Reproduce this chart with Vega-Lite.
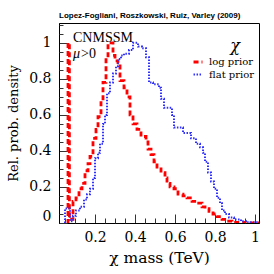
{
  "$schema": "https://vega.github.io/schema/vega-lite/v6.json",
  "width": 200,
  "height": 200,
  "autosize": {"type": "none"},
  "padding": {"left": 59, "top": 23, "right": 15, "bottom": 51},
  "background": "white",
  "config": {"view": {"stroke": "#000", "strokeWidth": 1}},
  "title": {"text": "Lopez-Fogliani, Roszkowski, Ruiz, Varley (2009)", "anchor": "start", "frame": "group", "font": "Liberation Sans", "fontSize": 8, "fontWeight": "bold", "color": "#000", "offset": 3},
  "resolve": {"axis": {"x": "independent", "y": "independent"}},
  "datasets": {
    "curves": [
      {"prior": "log prior", "i": 0, "m": 0.06, "d": 0.0},
      {"prior": "log prior", "i": 1, "m": 0.065, "d": 1.0},
      {"prior": "log prior", "i": 2, "m": 0.072, "d": 0.02},
      {"prior": "log prior", "i": 3, "m": 0.09, "d": 0.12},
      {"prior": "log prior", "i": 4, "m": 0.105, "d": 0.14},
      {"prior": "log prior", "i": 5, "m": 0.12, "d": 0.19},
      {"prior": "log prior", "i": 6, "m": 0.135, "d": 0.22},
      {"prior": "log prior", "i": 7, "m": 0.15, "d": 0.29},
      {"prior": "log prior", "i": 8, "m": 0.165, "d": 0.33},
      {"prior": "log prior", "i": 9, "m": 0.175, "d": 0.37},
      {"prior": "log prior", "i": 10, "m": 0.19, "d": 0.47},
      {"prior": "log prior", "i": 11, "m": 0.205, "d": 0.52},
      {"prior": "log prior", "i": 12, "m": 0.215, "d": 0.59},
      {"prior": "log prior", "i": 13, "m": 0.23, "d": 0.68},
      {"prior": "log prior", "i": 14, "m": 0.24, "d": 0.78},
      {"prior": "log prior", "i": 15, "m": 0.255, "d": 0.92},
      {"prior": "log prior", "i": 16, "m": 0.265, "d": 1.0},
      {"prior": "log prior", "i": 17, "m": 0.29, "d": 0.93},
      {"prior": "log prior", "i": 18, "m": 0.3, "d": 0.9},
      {"prior": "log prior", "i": 19, "m": 0.315, "d": 0.89},
      {"prior": "log prior", "i": 20, "m": 0.325, "d": 0.79},
      {"prior": "log prior", "i": 21, "m": 0.345, "d": 0.75},
      {"prior": "log prior", "i": 22, "m": 0.36, "d": 0.7},
      {"prior": "log prior", "i": 23, "m": 0.375, "d": 0.6},
      {"prior": "log prior", "i": 24, "m": 0.39, "d": 0.55},
      {"prior": "log prior", "i": 25, "m": 0.41, "d": 0.52},
      {"prior": "log prior", "i": 26, "m": 0.43, "d": 0.48},
      {"prior": "log prior", "i": 27, "m": 0.455, "d": 0.45},
      {"prior": "log prior", "i": 28, "m": 0.465, "d": 0.41},
      {"prior": "log prior", "i": 29, "m": 0.48, "d": 0.38},
      {"prior": "log prior", "i": 30, "m": 0.495, "d": 0.34},
      {"prior": "log prior", "i": 31, "m": 0.51, "d": 0.31},
      {"prior": "log prior", "i": 32, "m": 0.53, "d": 0.28},
      {"prior": "log prior", "i": 33, "m": 0.55, "d": 0.25},
      {"prior": "log prior", "i": 34, "m": 0.56, "d": 0.22},
      {"prior": "log prior", "i": 35, "m": 0.575, "d": 0.2},
      {"prior": "log prior", "i": 36, "m": 0.595, "d": 0.19},
      {"prior": "log prior", "i": 37, "m": 0.615, "d": 0.16},
      {"prior": "log prior", "i": 38, "m": 0.64, "d": 0.15},
      {"prior": "log prior", "i": 39, "m": 0.66, "d": 0.14},
      {"prior": "log prior", "i": 40, "m": 0.685, "d": 0.12},
      {"prior": "log prior", "i": 41, "m": 0.71, "d": 0.11},
      {"prior": "log prior", "i": 42, "m": 0.735, "d": 0.09},
      {"prior": "log prior", "i": 43, "m": 0.75, "d": 0.08},
      {"prior": "log prior", "i": 44, "m": 0.77, "d": 0.065},
      {"prior": "log prior", "i": 45, "m": 0.79, "d": 0.05},
      {"prior": "log prior", "i": 46, "m": 0.81, "d": 0.035},
      {"prior": "log prior", "i": 47, "m": 0.835, "d": 0.02},
      {"prior": "log prior", "i": 48, "m": 0.86, "d": 0.01},
      {"prior": "log prior", "i": 49, "m": 0.885, "d": 0.004},
      {"prior": "log prior", "i": 50, "m": 0.95, "d": 0.0},
      {"prior": "log prior", "i": 51, "m": 1.02, "d": 0.0},
      {"prior": "flat prior", "i": 0, "m": 0.05, "d": 0.0},
      {"prior": "flat prior", "i": 1, "m": 0.05, "d": 0.08},
      {"prior": "flat prior", "i": 2, "m": 0.075, "d": 0.01},
      {"prior": "flat prior", "i": 3, "m": 0.09, "d": 0.04},
      {"prior": "flat prior", "i": 4, "m": 0.105, "d": 0.07},
      {"prior": "flat prior", "i": 5, "m": 0.125, "d": 0.09},
      {"prior": "flat prior", "i": 6, "m": 0.145, "d": 0.13},
      {"prior": "flat prior", "i": 7, "m": 0.16, "d": 0.16},
      {"prior": "flat prior", "i": 8, "m": 0.175, "d": 0.19},
      {"prior": "flat prior", "i": 9, "m": 0.19, "d": 0.25},
      {"prior": "flat prior", "i": 10, "m": 0.2, "d": 0.36},
      {"prior": "flat prior", "i": 11, "m": 0.215, "d": 0.39},
      {"prior": "flat prior", "i": 12, "m": 0.225, "d": 0.44},
      {"prior": "flat prior", "i": 13, "m": 0.24, "d": 0.55},
      {"prior": "flat prior", "i": 14, "m": 0.25, "d": 0.6},
      {"prior": "flat prior", "i": 15, "m": 0.26, "d": 0.72},
      {"prior": "flat prior", "i": 16, "m": 0.275, "d": 0.78},
      {"prior": "flat prior", "i": 17, "m": 0.29, "d": 0.83},
      {"prior": "flat prior", "i": 18, "m": 0.305, "d": 0.87},
      {"prior": "flat prior", "i": 19, "m": 0.315, "d": 0.91},
      {"prior": "flat prior", "i": 20, "m": 0.33, "d": 0.93},
      {"prior": "flat prior", "i": 21, "m": 0.345, "d": 0.94},
      {"prior": "flat prior", "i": 22, "m": 0.37, "d": 0.96},
      {"prior": "flat prior", "i": 23, "m": 0.39, "d": 1.0},
      {"prior": "flat prior", "i": 24, "m": 0.415, "d": 0.98},
      {"prior": "flat prior", "i": 25, "m": 0.435, "d": 0.97},
      {"prior": "flat prior", "i": 26, "m": 0.455, "d": 0.92},
      {"prior": "flat prior", "i": 27, "m": 0.47, "d": 0.78},
      {"prior": "flat prior", "i": 28, "m": 0.49, "d": 0.77},
      {"prior": "flat prior", "i": 29, "m": 0.52, "d": 0.75},
      {"prior": "flat prior", "i": 30, "m": 0.53, "d": 0.69},
      {"prior": "flat prior", "i": 31, "m": 0.545, "d": 0.64},
      {"prior": "flat prior", "i": 32, "m": 0.585, "d": 0.6},
      {"prior": "flat prior", "i": 33, "m": 0.595, "d": 0.53},
      {"prior": "flat prior", "i": 34, "m": 0.64, "d": 0.5},
      {"prior": "flat prior", "i": 35, "m": 0.68, "d": 0.47},
      {"prior": "flat prior", "i": 36, "m": 0.705, "d": 0.44},
      {"prior": "flat prior", "i": 37, "m": 0.725, "d": 0.42},
      {"prior": "flat prior", "i": 38, "m": 0.74, "d": 0.39},
      {"prior": "flat prior", "i": 39, "m": 0.75, "d": 0.34},
      {"prior": "flat prior", "i": 40, "m": 0.765, "d": 0.28},
      {"prior": "flat prior", "i": 41, "m": 0.78, "d": 0.23},
      {"prior": "flat prior", "i": 42, "m": 0.795, "d": 0.19},
      {"prior": "flat prior", "i": 43, "m": 0.81, "d": 0.14},
      {"prior": "flat prior", "i": 44, "m": 0.825, "d": 0.11},
      {"prior": "flat prior", "i": 45, "m": 0.835, "d": 0.07},
      {"prior": "flat prior", "i": 46, "m": 0.85, "d": 0.05},
      {"prior": "flat prior", "i": 47, "m": 0.87, "d": 0.03},
      {"prior": "flat prior", "i": 48, "m": 0.895, "d": 0.02},
      {"prior": "flat prior", "i": 49, "m": 0.93, "d": 0.01},
      {"prior": "flat prior", "i": 50, "m": 0.955, "d": 0.004},
      {"prior": "flat prior", "i": 51, "m": 1.02, "d": 0.004}
    ]
  },
  "layer": [
    {
      "data": {"name": "curves"},
      "mark": {"type": "line", "interpolate": "step-after", "clip": true},
      "encoding": {
        "x": {
          "field": "m", "type": "quantitative",
          "scale": {"domain": [0.02, 1.02], "nice": false, "zero": false},
          "axis": {
            "orient": "bottom",
            "title": "χ mass (TeV)", "titleFont": "DejaVu Serif", "titleFontSize": 15.5, "titleFontWeight": "normal", "titleColor": "#000", "titlePadding": 6,
            "values": [0.2, 0.4, 0.6, 0.8, 1.0],
            "format": "~g",
            "labelFont": "DejaVu Serif", "labelFontSize": 14, "labelColor": "#000", "labelPadding": 16, "labelFlush": false, "labelOverlap": false,
            "tickSize": -9,
            "tickColor": "#333", "tickWidth": 1, "domainColor": "#000", "grid": false
          }
        },
        "y": {
          "field": "d", "type": "quantitative",
          "scale": {"domain": [0, 1.11], "nice": false},
          "axis": {
            "orient": "left",
            "title": "Rel. prob. density", "titleFont": "DejaVu Serif", "titleFontSize": 13, "titleFontWeight": "normal", "titleColor": "#000", "titlePadding": 8,
            "values": [0, 0.2, 0.4, 0.6, 0.8, 1.0],
            "format": "~g",
            "labelFont": "DejaVu Serif", "labelFontSize": 14, "labelColor": "#000", "labelPadding": 16, "labelFlush": false, "labelOverlap": false,
            "labelOffset": {"condition": {"test": "datum.value==0", "value": -7}, "value": 0},
            "tickSize": -8,
            "tickColor": "#333", "tickWidth": 1, "domainColor": "#000", "grid": false
          }
        },
        "order": {"field": "i", "type": "quantitative"},
        "color": {
          "field": "prior", "type": "nominal",
          "scale": {"domain": ["log prior", "flat prior"], "range": ["#ff0000", "#3030ff"]},
          "legend": {"orient": "none", "legendX": 133, "legendY": 33, "title": null, "labelFont": "DejaVu Serif", "labelFontSize": 10, "labelColor": "#000", "symbolType": "stroke", "symbolSize": 80, "symbolStrokeWidth": 1.2, "rowPadding": 1, "labelOffset": 5, "padding": 0}
        },
        "strokeDash": {
          "field": "prior", "type": "nominal",
          "scale": {"domain": ["log prior", "flat prior"], "range": [[5, 3], [1.5, 1.5]]},
          "legend": {"orient": "none", "legendX": 133, "legendY": 33, "title": null, "labelFont": "DejaVu Serif", "labelFontSize": 10, "labelColor": "#000", "symbolType": "stroke", "symbolSize": 80, "symbolStrokeWidth": 1.2, "rowPadding": 1, "labelOffset": 5, "padding": 0}
        },
        "strokeWidth": {
          "field": "prior", "type": "ordinal",
          "scale": {"domain": ["log prior", "flat prior"], "range": [2.8, 2]},
          "legend": null
        }
      }
    },
    {
      "data": {"values": [{"m": 0.09, "d": 1.003, "t": "CNMSSM"}]},
      "mark": {"type": "text", "align": "left", "baseline": "alphabetic", "font": "Liberation Serif", "fontSize": 14, "color": "#000"},
      "encoding": {
        "x": {"field": "m", "type": "quantitative", "axis": {"orient": "bottom", "title": null, "labels": false, "domain": false, "grid": false, "tickSize": -5, "tickColor": "#333", "tickWidth": 1,
          "values": [0.05, 0.1, 0.15, 0.25, 0.3, 0.35, 0.45, 0.5, 0.55, 0.65, 0.7, 0.75, 0.85, 0.9, 0.95]}},
        "y": {"field": "d", "type": "quantitative", "axis": {"orient": "left", "title": null, "labels": false, "domain": false, "grid": false, "tickSize": -4, "tickColor": "#333", "tickWidth": 1,
          "values": [0.05, 0.1, 0.15, 0.25, 0.3, 0.35, 0.45, 0.5, 0.55, 0.65, 0.7, 0.75, 0.85, 0.9, 0.95, 1.05, 1.1]}},
        "text": {"field": "t"}
      }
    },
    {
      "data": {"values": [{"m": 0.09, "d": 0.917, "t": "μ"}]},
      "mark": {"type": "text", "align": "left", "baseline": "alphabetic", "font": "Liberation Serif", "fontSize": 14, "fontStyle": "italic", "color": "#000"},
      "encoding": {"x": {"field": "m", "type": "quantitative", "axis": null}, "y": {"field": "d", "type": "quantitative", "axis": null}, "text": {"field": "t"}}
    },
    {
      "data": {"values": [{"m": 0.13, "d": 0.917, "t": ">0"}]},
      "mark": {"type": "text", "align": "left", "baseline": "alphabetic", "font": "Liberation Serif", "fontSize": 14, "color": "#000"},
      "encoding": {"x": {"field": "m", "type": "quantitative", "axis": null}, "y": {"field": "d", "type": "quantitative", "axis": null}, "text": {"field": "t"}}
    },
    {
      "data": {"values": [{"m": 0.9, "d": 0.956, "t": "χ"}]},
      "mark": {"type": "text", "align": "center", "baseline": "alphabetic", "font": "DejaVu Serif", "fontSize": 16, "fontStyle": "italic", "color": "#000"},
      "encoding": {"x": {"field": "m", "type": "quantitative", "axis": null}, "y": {"field": "d", "type": "quantitative", "axis": null}, "text": {"field": "t"}}
    }
  ]
}
